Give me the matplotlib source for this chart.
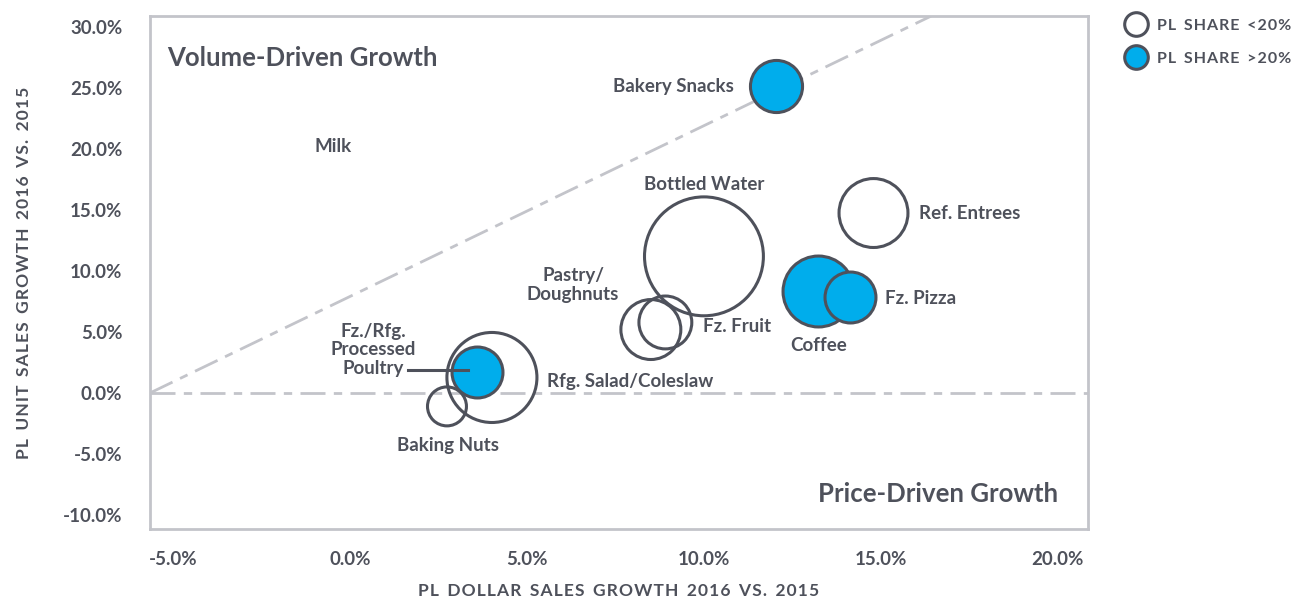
import matplotlib
matplotlib.use("Agg")
import matplotlib.pyplot as plt
from matplotlib.lines import Line2D

# ---------------- data ----------------
categories = ["Bottled Water", "Rfg. Salad/Coleslaw", "Ref. Entrees", "Pastry/\nDoughnuts",
              "Fz. Fruit", "Baking Nuts", "Bakery Snacks", "Coffee", "Fz. Pizza",
              "Fz./Rfg.\nProcessed\nPoultry"]
dollar_growth = [10.0, 4.01, 14.79, 8.5, 8.91, 2.74, 12.03, 13.23, 14.14, 3.59]
unit_growth = [11.2, 1.27, 14.75, 5.2, 5.78, -1.1, 25.2, 8.36, 7.87, 1.72]
bubble_value = [35.4, 20.3, 11.9, 9.0, 7.0, 3.8, 6.8, 12.6, 6.5, 6.5]
pl_share_over_20 = [False, False, False, False, False, False, True, True, True, True]

milk_point = (-0.48, 20.2)

x_ticks = [-5, 0, 5, 10, 15, 20]
y_ticks = [-10, -5, 0, 5, 10, 15, 20, 25, 30]
x_tick_labels = ["-5.0%", "0.0%", "5.0%", "10.0%", "15.0%", "20.0%"]
y_tick_labels = ["-10.0%", "-5.0%", "0.0%", "5.0%", "10.0%", "15.0%", "20.0%", "25.0%", "30.0%"]

# ---------------- style ----------------
plt.rcParams['font.family'] = ['Lato', 'DejaVu Sans']
TXT = "#4e515b"
EDGE = "#4e515b"
BLUE = "#00adec"
GRID = "#c3c4ca"


def spaced(s):
    words = s.split(" ")
    return "  ".join("\u200a".join(w) for w in words)


fig = plt.figure(figsize=(12.94, 6.02), dpi=100)
ax = fig.add_axes([150/1294, 73/602, (1088-150)/1294, (529-16)/602])

ax.set_xlim(-5.65, 20.85)
ax.set_ylim(-11.15, 30.9)

# reference lines
xl = ax.get_xlim()
ax.plot([xl[0], xl[1]], [0, 0], color=GRID, lw=2.0,
        linestyle=(0, (9, 3, 3, 3)), zorder=1)
slope = 1.4
x_end = 30.9 / slope + xl[0]
ax.plot([xl[0], x_end], [0, slope * (x_end - xl[0])], color=GRID, lw=2.0,
        linestyle=(0, (9, 3, 3, 3)), zorder=1)

# bubbles (open first, filled on top)
for filled in (False, True):
    for c, x, y, v, f in zip(categories, dollar_growth, unit_growth, bubble_value, pl_share_over_20):
        if f != filled:
            continue
        ax.scatter([x], [y], s=v * 207, facecolor=BLUE if f else 'none',
                   edgecolor=EDGE, linewidth=2.2, zorder=3 if f else 2)

# poultry connector line
pi = categories.index("Fz./Rfg.\nProcessed\nPoultry")
ax.plot([dollar_growth[pi] - 1.95, dollar_growth[pi] - 0.25],
        [unit_growth[pi] + 0.15, unit_growth[pi] + 0.15], color=EDGE, lw=2.2, zorder=4)

lab_kw = dict(color=TXT, fontsize=13.5, fontweight='bold', zorder=5)
# label offsets in points (dx, dy, ha)
offsets = {
    "Bottled Water": (0, 52, 'center'),
    "Rfg. Salad/Coleslaw": (40, -3, 'left'),
    "Ref. Entrees": (33, 0, 'left'),
    "Pastry/\nDoughnuts": (-56, 32, 'center'),
    "Fz. Fruit": (27, -3, 'left'),
    "Baking Nuts": (1, -28, 'center'),
    "Bakery Snacks": (-30, -1, 'right'),
    "Coffee": (0, -39, 'center'),
    "Fz. Pizza": (25, -1, 'left'),
    "Fz./Rfg.\nProcessed\nPoultry": (-75, 16, 'center'),
}
for c, x, y in zip(categories, dollar_growth, unit_growth):
    dx, dy, ha = offsets[c]
    ax.annotate(c, (x, y), xytext=(dx, dy), textcoords='offset points',
                ha=ha, va='center', multialignment='center', linespacing=1.1, **lab_kw)

ax.text(milk_point[0], milk_point[1], "Milk", ha='center', va='center', **lab_kw)

ax.text(0.018, 0.918, "Volume-Driven Growth", transform=ax.transAxes, ha='left', va='center',
        color=TXT, fontsize=18.5, fontweight='bold')
ax.text(0.968, 0.068, "Price-Driven Growth", transform=ax.transAxes, ha='right', va='center',
        color=TXT, fontsize=18.5, fontweight='bold')

# axes styling
ax.set_xticks(x_ticks)
ax.set_xticklabels(x_tick_labels)
ax.set_yticks(y_ticks)
ax.set_yticklabels(y_tick_labels)
ax.tick_params(length=0, labelsize=13.5, labelcolor=TXT)
for lab in ax.get_xticklabels() + ax.get_yticklabels():
    lab.set_fontweight('bold')
ax.tick_params(axis='x', pad=16)
ax.tick_params(axis='y', pad=20)
for sp in ax.spines.values():
    sp.set_color(GRID)
    sp.set_linewidth(2.0)

ax.set_xlabel(spaced("PL DOLLAR SALES GROWTH 2016 VS. 2015"),
              color=TXT, fontsize=12.5, fontweight='bold', labelpad=11)
ax.set_ylabel(spaced("PL UNIT SALES GROWTH 2016 VS. 2015"),
              color=TXT, fontsize=12.5, fontweight='bold', labelpad=22)

# legend
handles = [Line2D([0], [0], marker='o', linestyle='none', markersize=17, markerfacecolor='white',
                  markeredgecolor=EDGE, markeredgewidth=2.2),
           Line2D([0], [0], marker='o', linestyle='none', markersize=17, markerfacecolor=BLUE,
                  markeredgecolor=EDGE, markeredgewidth=2.2)]
leg = fig.legend(handles, [spaced("PL SHARE <20%"), spaced("PL SHARE >20%")], loc='upper left',
                 bbox_to_anchor=(1120/1294, 1 - 12/602), frameon=False,
                 prop={'weight': 'bold', 'size': 11.5}, labelcolor=TXT,
                 handletextpad=0.7, labelspacing=1.2, borderaxespad=0, handlelength=1.2)

fig.savefig("out.png", dpi=100, facecolor='white')
